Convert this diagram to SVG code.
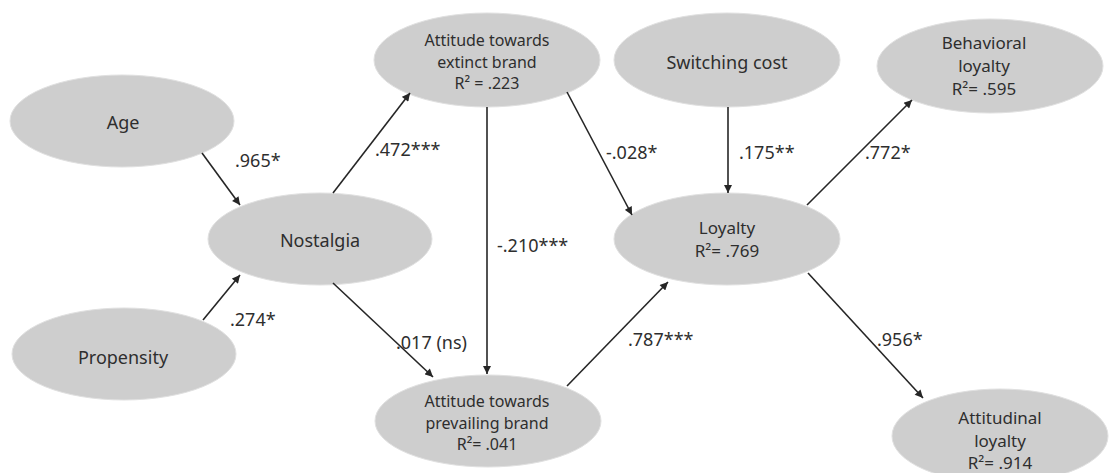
<svg xmlns="http://www.w3.org/2000/svg" width="1117" height="473" viewBox="0 0 1117 473">
<style>
.node ellipse{fill:#cecece;stroke:#e0e0e0;stroke-width:1}
.node text{font-family:"Noto Sans","Open Sans",sans-serif;font-size:18px;fill:#2e2e2e;text-anchor:middle;dominant-baseline:central}
.node text.m{font-size:16px}
.node text.n{font-size:17px}
.lbl{font-family:"Noto Sans","Open Sans",sans-serif;font-size:18px;fill:#2e2e2e;dominant-baseline:central}
.edges line{stroke:#262626;stroke-width:1.6;marker-end:url(#ah)}
</style>
<defs>
<marker id="ah" viewBox="0 0 10 10" refX="10" refY="5" markerWidth="9" markerHeight="8" markerUnits="userSpaceOnUse" orient="auto">
<path d="M0,0 L10,5 L0,10 z" fill="#262626"/>
</marker>
</defs>
<rect width="1117" height="473" fill="#fff"/>
<g id="age" class="node"><ellipse cx="122" cy="121" rx="112" ry="46"/><text x="123" y="122">Age</text></g>
<g id="propensity" class="node"><ellipse cx="124" cy="354" rx="112" ry="46"/><text x="123" y="357">Propensity</text></g>
<g id="nostalgia" class="node"><ellipse cx="320" cy="239" rx="112" ry="46"/><text x="320" y="240">Nostalgia</text></g>
<g id="extinct" class="node"><ellipse cx="487" cy="60" rx="113" ry="47"/><text class="m" x="487" y="40">Attitude towards</text><text class="m" x="487" y="62">extinct brand</text><text class="m" x="487" y="83">R² = .223</text></g>
<g id="prevailing" class="node"><ellipse cx="488" cy="421" rx="113" ry="46"/><text class="m" x="487" y="401">Attitude towards</text><text class="m" x="487" y="423">prevailing brand</text><text class="m" x="487" y="444">R²= .041</text></g>
<g id="switching" class="node"><ellipse cx="727" cy="60" rx="113" ry="47"/><text x="727" y="62">Switching cost</text></g>
<g id="behavioral" class="node"><ellipse cx="990" cy="66" rx="113" ry="47"/><text class="n" x="984" y="42">Behavioral</text><text class="n" x="984" y="65">loyalty</text><text class="n" x="984" y="88">R²= .595</text></g>
<g id="loyalty" class="node"><ellipse cx="727" cy="239" rx="113" ry="46"/><text class="n" x="727" y="227">Loyalty</text><text class="n" x="727" y="250">R²= .769</text></g>
<g id="attitudinal" class="node"><ellipse cx="1000" cy="436" rx="108" ry="47"/><text class="n" x="1000" y="417">Attitudinal</text><text class="n" x="1000" y="440">loyalty</text><text class="n" x="1000" y="462">R²= .914</text></g>
<g id="connectors" class="edges">
<line x1="202" y1="153" x2="240" y2="205"/>
<line x1="203" y1="320" x2="240" y2="275"/>
<line x1="333" y1="193" x2="410" y2="93"/>
<line x1="333" y1="283" x2="433" y2="377"/>
<line x1="487" y1="107" x2="487" y2="374"/>
<line x1="567" y1="92" x2="632" y2="215"/>
<line x1="728" y1="107" x2="728" y2="193"/>
<line x1="567" y1="386" x2="668" y2="282"/>
<line x1="807" y1="205" x2="912" y2="100"/>
<line x1="808" y1="273" x2="923" y2="398"/>
</g>
<g id="labels">
<text class="lbl" x="235" y="160">.965*</text>
<text class="lbl" x="230" y="319">.274*</text>
<text class="lbl" x="375" y="149">.472***</text>
<text class="lbl" x="497" y="245">-.210***</text>
<text class="lbl" x="606" y="152">-.028*</text>
<text class="lbl" x="739" y="152">.175**</text>
<text class="lbl" x="865" y="152">.772*</text>
<text class="lbl" x="396" y="342">.017 (ns)</text>
<text class="lbl" x="628" y="339">.787***</text>
<text class="lbl" x="877" y="339">.956*</text>
</g>
</svg>
